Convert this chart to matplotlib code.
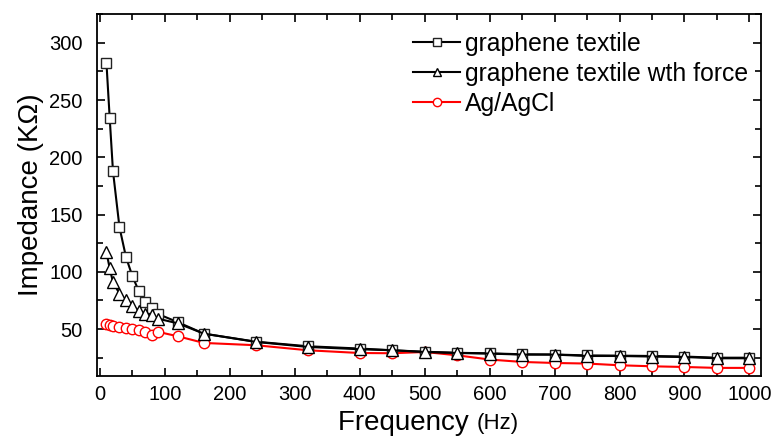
import matplotlib
matplotlib.use('Agg')
import matplotlib.pyplot as plt
import numpy as np

plt.rcParams['font.family'] = ['Liberation Sans', 'DejaVu Sans']

# measured frequencies (Hz)
freq = [10, 15, 20, 30, 40, 50, 60, 70, 80, 90, 120, 160, 240, 320, 400,
        450, 500, 550, 600, 650, 700, 750, 800, 850, 900, 950, 1000]

# impedance (kOhm)
textile = [282, 234, 188, 139, 113, 96, 83, 74, 68, 63, 56, 46, 39, 35, 33,
           31.5, 30.2, 29.3, 28.8, 28, 27.8, 27, 26.8, 26.5, 26, 25, 25]
textile_force = [117, 103, 91, 81, 75, 70, 66, 63.5, 62, 59, 55, 46, 38.8, 34.4, 32.4,
                 31.5, 30, 29.1, 28.6, 27.7, 27.7, 26.5, 26.5, 26, 25.6, 24.5, 24.5]
agagcl = [54.2, 53.3, 52.7, 51.8, 51, 50.1, 49, 47.5, 44.6, 47.5, 43.7, 37.9, 35.9, 31.5, 29.1,
          28.9, 30, 27.1, 23.4, 21.3, 20.4, 19.9, 18.4, 17.5, 16.9, 16.1, 16.1]

fig = plt.figure(figsize=(7.77, 4.45), dpi=100)
ax = fig.add_axes([0.1245, 0.155, 0.855, 0.813])

ax.plot(freq, textile, '-s', color='black', lw=1.5, ms=7, mfc='white', mec='#222222',
        mew=1.0, label='graphene textile', zorder=3)
ax.plot(freq, textile_force, '-^', color='black', lw=1.5, ms=8, mfc='white', mec='black',
        mew=1.0, label='graphene textile wth force', zorder=4)
ax.plot(freq, agagcl, '-o', color='red', lw=1.5, ms=7.5, mfc='white', mec='red',
        mew=1.0, label='Ag/AgCl', zorder=2)

ax.set_xlim(-5, 1018)
ax.set_ylim(9, 325)
ax.set_xticks(np.arange(0, 1001, 100))
ax.set_xticks(np.arange(0, 1001, 50), minor=True)
ax.set_yticks(np.arange(50, 301, 50))
ax.set_yticks(np.arange(25, 326, 25), minor=True)
ax.tick_params(which='both', direction='in', top=True, right=True, width=1.2,
               labelsize=14.5)
ax.tick_params(which='major', length=6)
ax.tick_params(which='minor', length=4)
ax.tick_params(axis='y', which='major', pad=10)
ax.tick_params(axis='x', which='major', pad=6.5)
for sp in ax.spines.values():
    sp.set_linewidth(1.3)

ax.set_ylabel('Impedance (KΩ)', fontsize=20, labelpad=4)
t1 = ax.text(0.572, -0.093, 'Frequency ', transform=ax.transAxes, fontsize=20,
             ha='right', va='top')
ax.annotate('(Hz)', xy=(1, 0), xycoords=t1, xytext=(0, 1), textcoords='offset points',
            fontsize=16, ha='left', va='bottom')

leg = ax.legend(loc='upper right', bbox_to_anchor=(1.007, 1.0), frameon=False,
                fontsize=17.8, handlelength=1.9, handletextpad=0.2,
                labelspacing=0.25, borderaxespad=0.3, markerscale=0.8)

fig.savefig('out.png', dpi=100)
